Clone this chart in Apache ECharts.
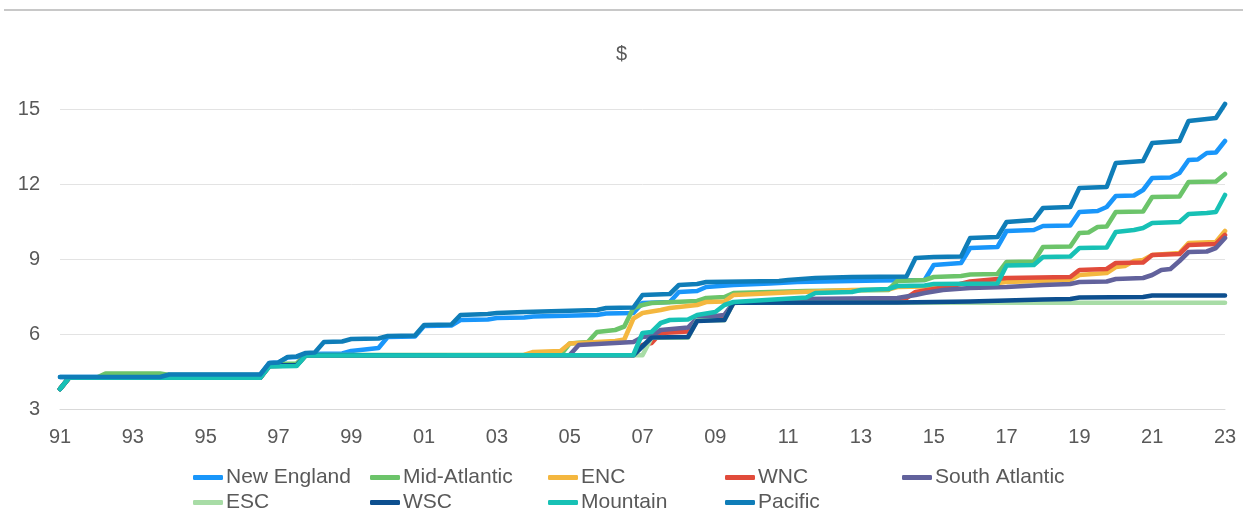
<!DOCTYPE html>
<html>
<head>
<meta charset="utf-8">
<script src="https://cdn.jsdelivr.net/npm/echarts@6/dist/echarts.min.js"></script>
<style>
  html, body { margin: 0; padding: 0; background: #fff; }
  #main { width: 1243px; height: 510px; }
</style>
</head>
<body>
<div id="main"></div>
<script>
// quarterly readings, [year, $/hour]
const newEngland = [[1991,4.28],[1993.75,4.28],[1994,4.36],[1996.5,4.36],[1996.75,4.84],[1997,4.86],[1997.25,5.06],[1997.5,5.08],[1997.75,5.2],[1998.75,5.22],[1999,5.32],[1999.75,5.44],[2000,5.88],[2000.75,5.9],[2001,6.32],[2001.75,6.34],[2002,6.56],[2002.75,6.58],[2003,6.64],[2003.75,6.66],[2004,6.7],[2005.75,6.76],[2006,6.82],[2006.75,6.84],[2007,7.24],[2007.75,7.28],[2008,7.68],[2008.5,7.72],[2008.75,7.88],[2009.5,7.96],[2010.5,8.02],[2011.25,8.08],[2013.5,8.14],[2014.75,8.16],[2015,8.76],[2015.75,8.84],[2016,9.44],[2016.75,9.48],[2017,10.12],[2017.75,10.16],[2018,10.32],[2018.75,10.34],[2019,10.88],[2019.5,10.92],[2019.75,11.08],[2020,11.52],[2020.5,11.54],[2020.75,11.76],[2021,12.24],[2021.5,12.26],[2021.75,12.44],[2022,12.96],[2022.25,12.98],[2022.5,13.24],[2022.75,13.26],[2023,13.72]]
const midAtlantic = [[1991,3.8],[1991.25,4.25],[1992,4.25],[1992.25,4.42],[1993.75,4.42],[1994,4.36],[1996.5,4.36],[1996.75,4.8],[1997.5,4.82],[1997.75,5.16],[2004.75,5.16],[2005,5.62],[2005.5,5.68],[2005.75,6.08],[2006.25,6.16],[2006.5,6.3],[2006.75,7.04],[2007,7.16],[2007.25,7.24],[2008.5,7.32],[2008.75,7.44],[2009.25,7.48],[2009.5,7.64],[2011.5,7.72],[2013.75,7.76],[2014,8.12],[2014.75,8.16],[2015,8.28],[2015.75,8.32],[2016,8.38],[2016.75,8.4],[2017,8.88],[2017.75,8.9],[2018,9.48],[2018.75,9.5],[2019,10.04],[2019.25,10.06],[2019.5,10.28],[2019.75,10.3],[2020,10.88],[2020.75,10.9],[2021,11.48],[2021.75,11.5],[2022,12.08],[2022.75,12.1],[2023,12.4]]
const enc = [[1991,3.8],[1991.25,4.25],[1996.5,4.25],[1996.75,4.72],[1997.5,4.74],[1997.75,5.15],[2003.75,5.16],[2004,5.28],[2004.75,5.32],[2005,5.62],[2006.25,5.72],[2006.5,5.78],[2006.75,6.62],[2007,6.84],[2007.5,6.96],[2007.75,7.04],[2008.5,7.16],[2008.75,7.28],[2009.25,7.3],[2009.5,7.56],[2011,7.66],[2012.75,7.76],[2013.75,7.78],[2014,7.88],[2014.75,7.9],[2015,7.96],[2016.75,8.04],[2017,8.08],[2018.75,8.16],[2019,8.36],[2019.75,8.44],[2020,8.68],[2020.25,8.72],[2020.5,8.92],[2020.75,8.96],[2021,9.16],[2021.75,9.24],[2022,9.64],[2022.75,9.68],[2023,10.12]]
const wnc = [[1991,3.8],[1991.25,4.25],[1996.5,4.25],[1996.75,4.72],[1997.5,4.74],[1997.75,5.15],[2006.75,5.16],[2007,5.56],[2007.25,5.64],[2007.5,6.04],[2008.25,6.1],[2008.5,6.56],[2009.25,6.62],[2009.5,7.25],[2013.75,7.36],[2014.25,7.44],[2014.5,7.68],[2015,7.8],[2015.5,7.92],[2016,8.1],[2016.75,8.2],[2017,8.24],[2018.75,8.28],[2019,8.56],[2019.75,8.6],[2020,8.84],[2020.75,8.86],[2021,9.16],[2021.75,9.2],[2022,9.56],[2022.75,9.6],[2023,9.96]]
const southAtlantic = [[1991,3.8],[1991.25,4.25],[1996.5,4.25],[1996.75,4.72],[1997.5,4.74],[1997.75,5.15],[2005,5.16],[2005.25,5.56],[2006.75,5.68],[2007,5.88],[2007.25,5.92],[2007.5,6.16],[2008.25,6.26],[2008.5,6.64],[2009.25,6.76],[2009.5,7.24],[2011,7.36],[2011.25,7.4],[2014,7.44],[2014.5,7.56],[2014.75,7.64],[2015.25,7.76],[2016,7.84],[2017,7.88],[2018,7.96],[2018.75,8.0],[2019,8.08],[2019.75,8.1],[2020,8.2],[2020.75,8.24],[2021,8.36],[2021.25,8.56],[2021.5,8.6],[2021.75,8.92],[2022,9.28],[2022.5,9.3],[2022.75,9.44],[2023,9.84]]
const esc = [[1991,3.8],[1991.25,4.25],[1996.5,4.25],[1996.75,4.75],[1997.5,4.75],[1997.75,5.15],[2007,5.15],[2007.25,5.85],[2008.25,5.85],[2008.5,6.55],[2009.25,6.55],[2009.5,7.25],[2023,7.25]]
const wsc = [[1991,3.8],[1991.25,4.25],[1996.5,4.25],[1996.75,4.75],[1997.5,4.75],[1997.75,5.15],[2006.75,5.15],[2007.25,5.86],[2008.25,5.88],[2008.5,6.52],[2009.25,6.56],[2009.5,7.25],[2014,7.26],[2015,7.28],[2016,7.3],[2017,7.34],[2018,7.38],[2018.75,7.4],[2019,7.46],[2020.75,7.48],[2021,7.54],[2023,7.54]]
const mountain = [[1991,3.8],[1991.25,4.25],[1996.5,4.25],[1996.75,4.7],[1997.5,4.72],[1997.75,5.14],[2006.75,5.16],[2007,6.04],[2007.25,6.08],[2007.5,6.44],[2007.75,6.56],[2008.25,6.58],[2008.5,6.76],[2009,6.88],[2009.25,7.16],[2009.5,7.28],[2011.5,7.46],[2011.75,7.64],[2012.75,7.68],[2013,7.76],[2013.75,7.8],[2014,7.92],[2014.75,7.94],[2015,8.0],[2016.75,8.02],[2017,8.74],[2017.75,8.76],[2018,9.08],[2018.75,9.1],[2019,9.44],[2019.75,9.46],[2020,10.08],[2020.5,10.16],[2020.75,10.24],[2021,10.44],[2021.75,10.48],[2022,10.8],[2022.5,10.84],[2022.75,10.88],[2023,11.56]]
const pacific = [[1991,4.28],[1993.75,4.28],[1994,4.38],[1996.5,4.38],[1996.75,4.84],[1997,4.86],[1997.25,5.08],[1997.5,5.1],[1997.75,5.24],[1998,5.26],[1998.25,5.68],[1998.75,5.7],[1999,5.8],[1999.75,5.82],[2000,5.92],[2000.75,5.94],[2001,6.36],[2001.75,6.38],[2002,6.76],[2002.75,6.8],[2003,6.84],[2003.75,6.88],[2005.75,6.96],[2006,7.04],[2006.75,7.06],[2007,7.56],[2007.75,7.6],[2008,7.96],[2008.5,8.0],[2008.75,8.08],[2010.75,8.12],[2011,8.16],[2011.75,8.24],[2012.75,8.28],[2014.25,8.3],[2014.5,9.04],[2015,9.08],[2015.75,9.1],[2016,9.84],[2016.75,9.88],[2017,10.48],[2017.75,10.56],[2018,11.04],[2018.75,11.08],[2019,11.84],[2019.75,11.88],[2020,12.84],[2020.75,12.92],[2021,13.64],[2021.75,13.72],[2022,14.52],[2022.75,14.64],[2023,15.2]]

const names = ['New England', 'Mid-Atlantic', 'ENC', 'WNC', 'South Atlantic', 'ESC', 'WSC', 'Mountain', 'Pacific']
const values = [newEngland, midAtlantic, enc, wnc, southAtlantic, esc, wsc, mountain, pacific]
const colors = ['#1996fa', '#6cc46a', '#f4b73f', '#e14b3b', '#62629c', '#a8dca6', '#0d4f8f', '#17c1b5', '#0f7db8']

const textColor = '#595959'
const font = 'Arial, "Liberation Sans", sans-serif'

// 图例位置：两行，固定列宽
const legendCols = [193, 370, 548, 725, 902]
const legends = names.map((name, i) => ({
  data: [name],
  left: legendCols[i % 5],
  top: i < 5 ? 467 : 492,
  icon: 'roundRect',
  itemWidth: 30,
  itemHeight: 5,
  itemGap: 0,
  padding: 0,
  textStyle: { color: textColor, fontSize: 21, fontFamily: font, padding: [0, 0, 0, -2] }
}))

const series = names.map((name, i) => ({
  name,
  type: 'line',
  data: values[i],
  symbol: 'none',
  clip: false,
  color: colors[i],
  lineStyle: { width: 4.6, color: colors[i], cap: 'round', join: 'round' }
}))

const option = {
  animation: false,
  backgroundColor: '#fff',
  title: {
    text: '$',
    left: 'center',
    top: 39,
    textStyle: { color: textColor, fontSize: 20, fontWeight: 'normal', fontFamily: font }
  },
  legend: legends,
  grid: { left: 60, right: 18, top: 109, bottom: 101 },
  xAxis: {
    type: 'value',
    min: 1991,
    max: 2023,
    interval: 2,
    axisLine: { show: true, lineStyle: { color: '#d9d9d9', width: 1 } },
    axisTick: { show: false },
    splitLine: { show: false },
    axisLabel: {
      color: textColor,
      fontSize: 20,
      fontFamily: font,
      margin: 18,
      formatter: v => String(v % 100).padStart(2, '0')
    }
  },
  yAxis: {
    type: 'value',
    min: 3,
    max: 15,
    interval: 3,
    axisLine: { show: false },
    axisTick: { show: false },
    splitLine: { lineStyle: { color: '#e3e3e3', width: 1 } },
    axisLabel: { color: textColor, fontSize: 20, fontFamily: font, margin: 20 }
  },
  graphic: [{
    type: 'rect',
    shape: { x: 4, y: 9, width: 1239, height: 2 },
    style: { fill: '#c8c8c8' },
    silent: true
  }],
  series
}

const chart = echarts.init(document.getElementById('main'))
chart.setOption(option)
window.addEventListener('resize', chart.resize)
</script>
</body>
</html>
